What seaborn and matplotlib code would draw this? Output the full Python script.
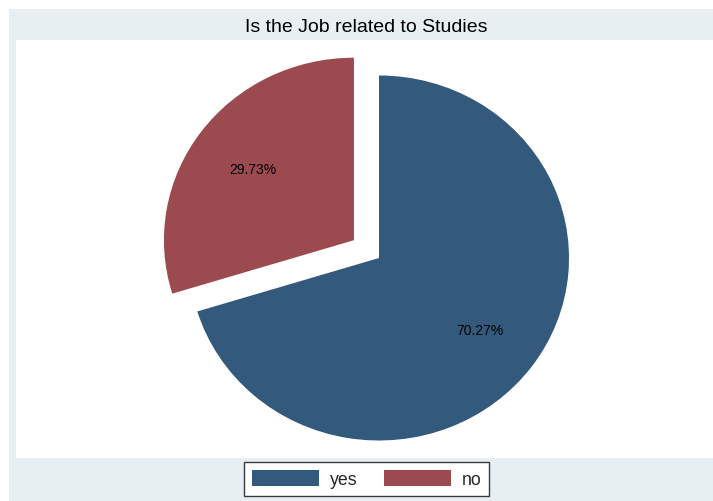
import matplotlib
matplotlib.use('Agg')
import matplotlib.pyplot as plt
import seaborn as sns
from matplotlib.patches import Rectangle

# Data
categories = ['yes', 'no']
shares = [70.27, 29.73]
colors = ['#33597C', '#9B4A50']
title = 'Is the Job related to Studies'

sns.set_theme(style='white')
plt.rcParams['font.family'] = ['Liberation Sans', 'DejaVu Sans']

W, H = 713, 502
fig = plt.figure(figsize=(W / 100, H / 100), dpi=100, facecolor='white')

# Light graph region behind the plot area
fig.patches.append(Rectangle((9 / W, 0), 1 - 9 / W, 1 - 10 / H,
                             transform=fig.transFigure, facecolor='#E8EFF2',
                             edgecolor='none', zorder=-10))

ax = fig.add_axes([16 / W, 43 / H, 697 / W, 418 / H])
ax.set_zorder(1)
wedges, texts, autotexts = ax.pie(
    shares, colors=colors, startangle=90, counterclock=False,
    explode=[0, 0.164], autopct='%1.2f%%', pctdistance=0.66,
    textprops=dict(fontsize=10, color='black'),
    wedgeprops=dict(linewidth=0))
ax.set_frame_on(True)
for s in ax.spines.values():
    s.set_visible(False)
ax.set_facecolor('white')
ax.set_aspect('auto')

# Pie radii (slightly wider than tall) and centre in axes pixels
rx, ry = 190, 182.5
cx, cy = 379 - 16, 459 - 259
ax.set_xlim(-cx / rx, (697 - cx) / rx)
ax.set_ylim(-cy / ry, (418 - cy) / ry)

fig.text(366 / W, 1 - 28 / H, title, ha='center', va='center', fontsize=14,
         color='black')

leg = fig.legend(wedges, categories, loc='center',
                 bbox_to_anchor=(366.5 / W, 1 - 480 / H), ncol=2,
                 frameon=True, fancybox=False, edgecolor='#3a3a3a',
                 facecolor='white', framealpha=1, fontsize=12.8,
                 handlelength=3.8, handleheight=1.0, handletextpad=0.57,
                 columnspacing=1.5, borderpad=0.46)
leg.get_frame().set_linewidth(1.0)
leg.set_zorder(5)

fig.savefig('out.png', dpi=100, facecolor='white')
